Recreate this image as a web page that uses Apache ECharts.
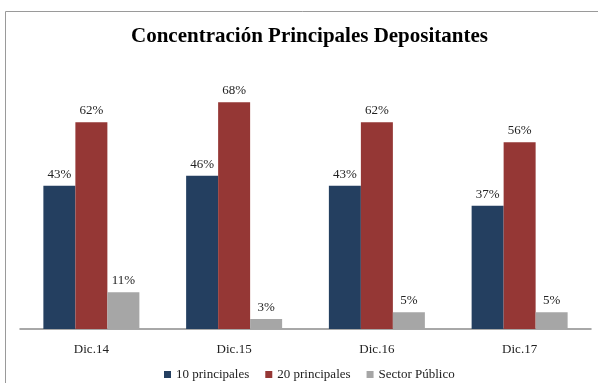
<!DOCTYPE html>
<html>
<head>
<meta charset="utf-8">
<script src="https://cdn.jsdelivr.net/npm/echarts@6/dist/echarts.min.js"></script>
<style>html,body{margin:0;padding:0;background:#fff}#c{width:598px;height:383px}</style>
</head>
<body>
<div id="c"></div>
<script>
const categories = ['Dic.14', 'Dic.15', 'Dic.16', 'Dic.17'];
const top10 = [43, 46, 43, 37];
const top20 = [62, 68, 62, 56];
const sectorPublico = [11, 3, 5, 5];
const seriesNames = ['10 principales', '20 principales', 'Sector Público'];

const font = '"Liberation Serif", "Times New Roman", serif';
const colors = ['#243F60', '#953735', '#A6A6A6'];
const chart = echarts.init(document.getElementById('c'));
const mk = (name, data, color) => ({
  name, type: 'bar', data, barWidth: 32, barGap: '0%',
  itemStyle: { color },
  label: { show: true, position: 'top', distance: 5, formatter: '{c}%', fontFamily: font, fontSize: 13, color: '#222' }
});
chart.setOption({
  animation: false,
  graphic: [{ type: 'rect', shape: { x: 5.5, y: 11.5, width: 800, height: 600 }, style: { fill: 'none', stroke: '#9a9a9a', lineWidth: 1 }, silent: true }],
  title: { text: 'Concentración Principales Depositantes', left: 126, top: 21, textStyle: { fontFamily: font, fontSize: 21, fontWeight: 'bold', color: '#000' } },
  legend: { top: 363, left: 159, itemWidth: 7, itemHeight: 7, itemGap: 16, icon: 'rect', textStyle: { fontFamily: font, fontSize: 13, color: '#222' }, data: seriesNames },
  grid: { left: 20, right: 7, top: 62.3, bottom: 54 },
  xAxis: { type: 'category', data: categories, axisLine: { lineStyle: { color: '#8c8c8c', width: 1.5 } }, axisTick: { show: false }, axisLabel: { fontFamily: font, fontSize: 13, color: '#222', margin: 14 } },
  yAxis: { type: 'value', min: 0, max: 80, show: false, splitLine: { show: false } },
  series: [mk(seriesNames[0], top10, colors[0]), mk(seriesNames[1], top20, colors[1]), mk(seriesNames[2], sectorPublico, colors[2])]
});
</script>
</body>
</html>
